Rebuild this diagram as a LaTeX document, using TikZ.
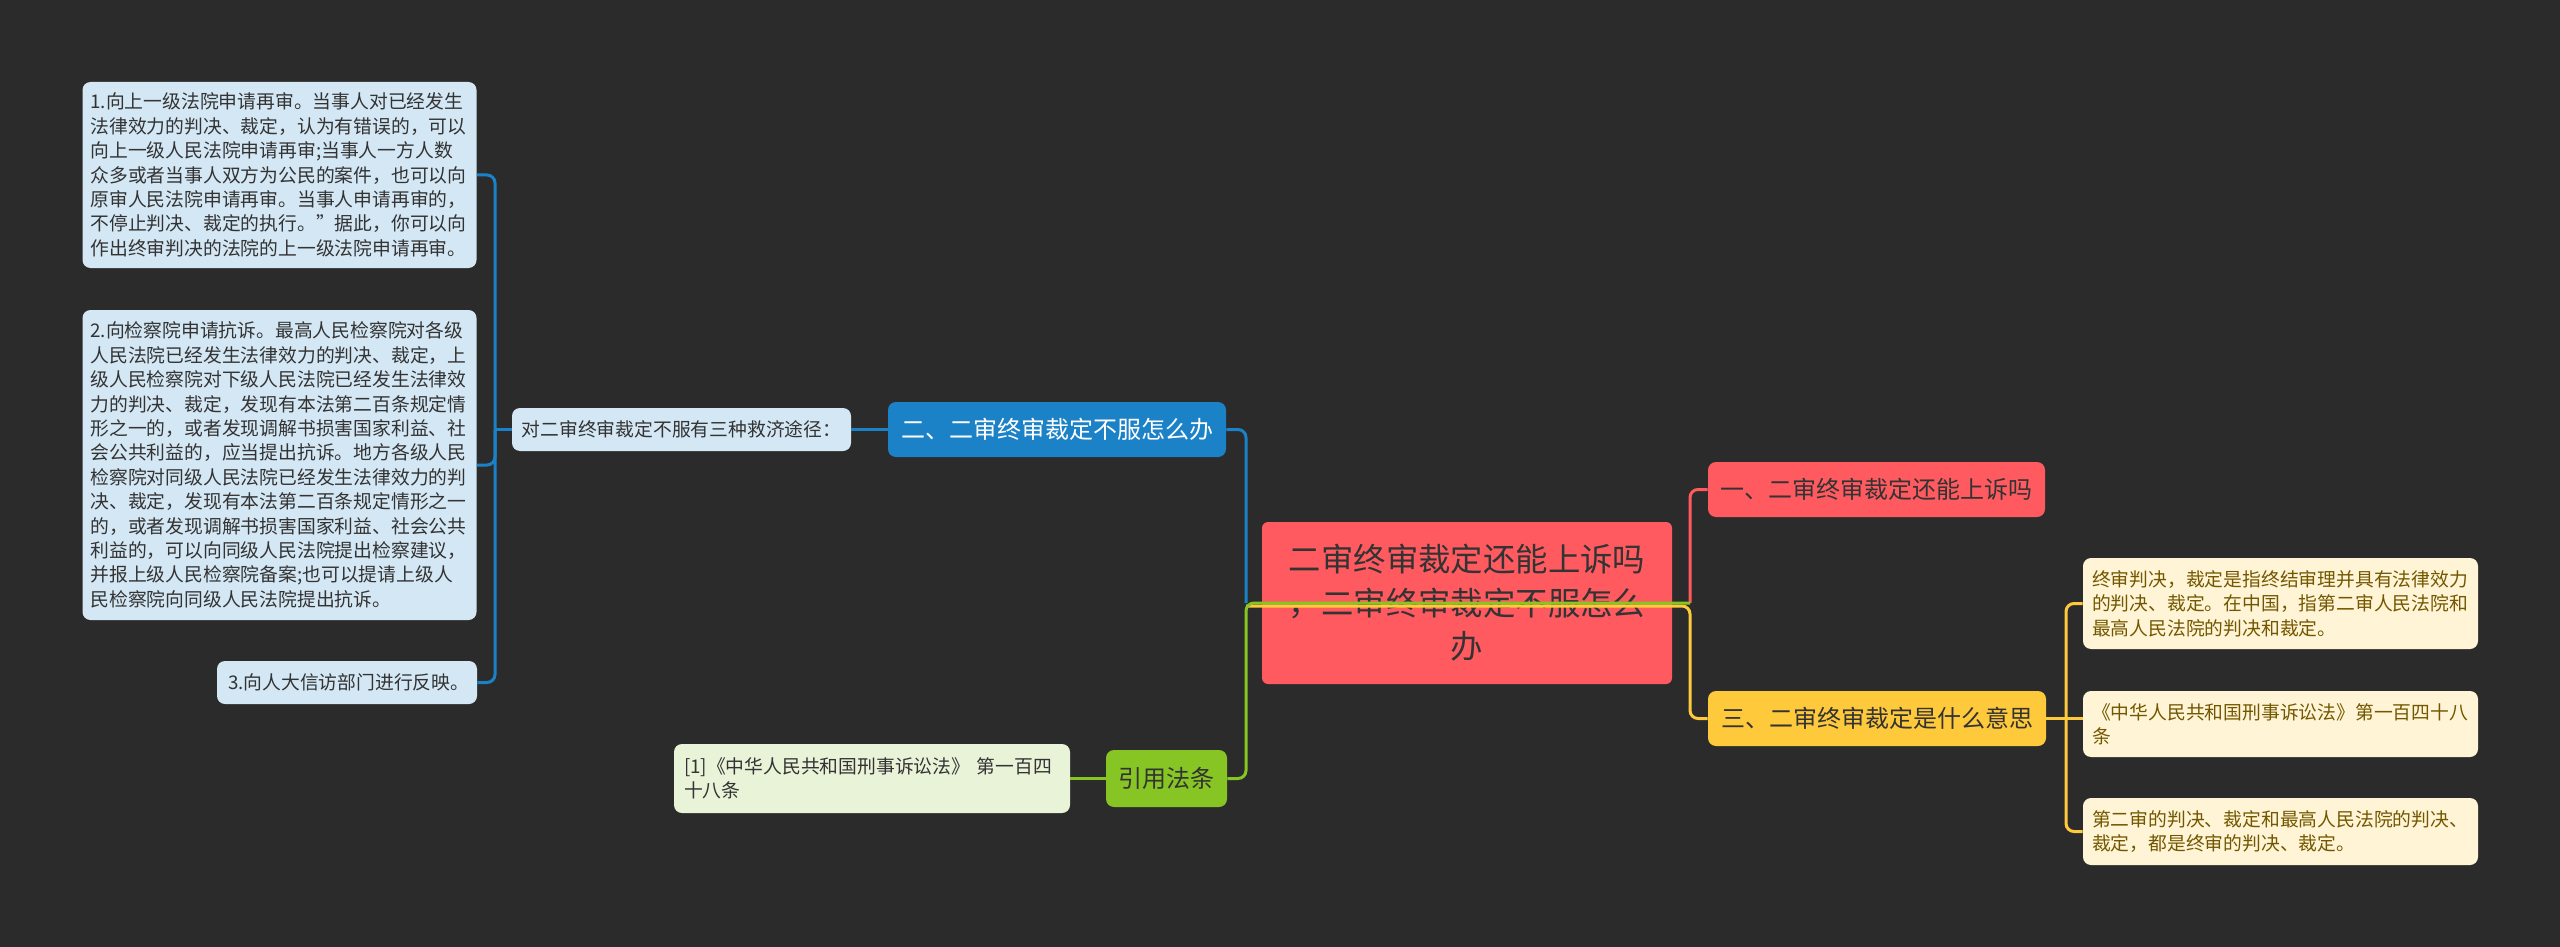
\documentclass[tikz,border=0pt]{standalone}
\usepackage{fontspec}
\setmainfont{Noto Sans CJK SC}
\definecolor{bg}{HTML}{2B2B2B}
\definecolor{rootred}{HTML}{FF5A5F}
\definecolor{bluenode}{HTML}{1C82C8}
\definecolor{lightblue}{HTML}{D4E7F4}
\definecolor{greennode}{HTML}{86C523}
\definecolor{lightgreen}{HTML}{E9F3D8}
\definecolor{yellownode}{HTML}{FFC93C}
\definecolor{lightyellow}{HTML}{FFF5D6}
\definecolor{darktext}{HTML}{333333}
\definecolor{browntext}{HTML}{735700}
\newcommand{\leaffont}{\fontsize{9.4pt}{12.2pt}\selectfont}
\newcommand{\mainfont}{\fontsize{12pt}{15pt}\selectfont}
\newcommand{\rootfont}{\fontsize{16.2pt}{21.75pt}\selectfont}
\tikzset{
  basebox/.style={rounded corners=4pt, inner sep=0pt, draw=none},
  leafblue/.style={basebox, fill=lightblue, text=darktext, font=\leaffont, align=left},
  leafgreen/.style={basebox, fill=lightgreen, text=darktext, font=\leaffont, align=left},
  leafyellow/.style={basebox, fill=lightyellow, text=browntext, font=\leaffont, align=left},
  topic/.style={basebox, font=\mainfont, align=center},
  conn/.style={line width=1.5pt, rounded corners=4pt},
  bline/.style={conn, draw=bluenode},
  gline/.style={conn, draw=greennode},
  yline/.style={conn, draw=yellownode},
  rline/.style={conn, draw=rootred},
}
\begin{document}
\begin{tikzpicture}[x=0.5pt, y=-0.5pt]
\useasboundingbox (0,0) rectangle (2560,947);
\fill[bg] (0,0) rectangle (2560,947);

% root
\node[basebox, rounded corners=3pt, fill=rootred, text=darktext, font=\rootfont, align=center,
      minimum width=205pt, minimum height=81pt] (root) at (1467,603)
  {二审终审裁定还能上诉吗\\，二审终审裁定不服怎么\\办};

% left blue branch
\node[topic, fill=bluenode, text=white, minimum width=169pt, minimum height=27.5pt] (n2) at (1057,429.5)
  {二、二审终审裁定不服怎么办};
\node[leafblue, align=center, minimum width=169.5pt, minimum height=21.5pt] (n2c) at (681.5,429.5)
  {对二审终审裁定不服有三种救济途径：};
\node[leafblue, text width=189pt, inner xsep=4pt, minimum height=93pt] (b1) at (279.5,175)
  {1.向上一级法院申请再审。当事人对已经发生\\法律效力的判决、裁定，认为有错误的，可以\\向上一级人民法院申请再审;当事人一方人数\\众多或者当事人双方为公民的案件，也可以向\\原审人民法院申请再审。当事人申请再审的，\\不停止判决、裁定的执行。”据此，你可以向\\作出终审判决的法院的上一级法院申请再审。};
\node[leafblue, text width=189pt, inner xsep=4pt, minimum height=155pt] (b2) at (279.5,465)
  {2.向检察院申请抗诉。最高人民检察院对各级\\人民法院已经发生法律效力的判决、裁定，上\\级人民检察院对下级人民法院已经发生法律效\\力的判决、裁定，发现有本法第二百条规定情\\形之一的，或者发现调解书损害国家利益、社\\会公共利益的，应当提出抗诉。地方各级人民\\检察院对同级人民法院已经发生法律效力的判\\决、裁定，发现有本法第二百条规定情形之一\\的，或者发现调解书损害国家利益、社会公共\\利益的，可以向同级人民法院提出检察建议，\\并报上级人民检察院备案;也可以提请上级人\\民检察院向同级人民法院提出抗诉。};
\node[leafblue, text width=119pt, inner xsep=5.5pt, minimum height=21.5pt] (b3) at (347,682.5)
  {3.向人大信访部门进行反映。};

% left green branch
\node[topic, fill=greennode, text=darktext, minimum width=60.5pt, minimum height=28.5pt] (n3) at (1166.5,778.5)
  {引用法条};
\node[leafgreen, text width=188pt, inner xsep=5pt, minimum height=34.5pt] (n3c) at (872,778.5)
  {[1]《中华人民共和国刑事诉讼法》 第一百四\\十八条};

% right branches
\node[topic, fill=rootred, text=darktext, minimum width=168.5pt, minimum height=27.5pt] (n1) at (1876.5,489.5)
  {一、二审终审裁定还能上诉吗};
\node[topic, fill=yellownode, text=darktext, minimum width=169pt, minimum height=27.5pt] (n4) at (1877,718.5)
  {三、二审终审裁定是什么意思};
\node[leafyellow, text width=188.5pt, inner xsep=4.5pt, minimum height=45.5pt] (ya) at (2280.5,603.5)
  {终审判决，裁定是指终结审理并具有法律效力\\的判决、裁定。在中国，指第二审人民法院和\\最高人民法院的判决和裁定。};
\node[leafyellow, text width=188.5pt, inner xsep=4.5pt, minimum height=33pt] (yb) at (2280.5,724)
  {《中华人民共和国刑事诉讼法》第一百四十八\\条};
\node[leafyellow, text width=188.5pt, inner xsep=4.5pt, minimum height=33.5pt] (yc) at (2280.5,831.5)
  {第二审的判决、裁定和最高人民法院的判决、\\裁定，都是终审的判决、裁定。};

% junction coordinates
\coordinate (JL) at (1246,603);
\coordinate (JR) at (1690,603);
\coordinate (JLy) at (1246,606);
\coordinate (JRy) at (1690,606);
\coordinate (BB) at (495,429.5);
\coordinate (BY) at (2066,718.5);

% connectors from the root
\draw[yline] (JLy) -- (JRy) |- (n4.west);
\draw[rline] (JR) |- (n1.west);
\draw[bline] (n2.east) -| (JL);
\draw[gline] (n3.east) -| (JL) -- (JR);

% second level
\draw[bline] (n2.west) -- (n2c.east);
\draw[bline] (n2c.west) -- (BB);
\draw[bline] (BB) |- (b1.east);
\draw[bline] (BB) |- (b2.east);
\draw[bline] (BB) |- (b3.east);
\draw[gline] (n3.west) -- (n3c.east);
\draw[yline] (n4.east) -- (BY);
\draw[yline] (BY) |- (ya.west);
\draw[yline] (BY) -- (BY -| yb.west);
\draw[yline] (BY) |- (yc.west);
\end{tikzpicture}
\end{document}
